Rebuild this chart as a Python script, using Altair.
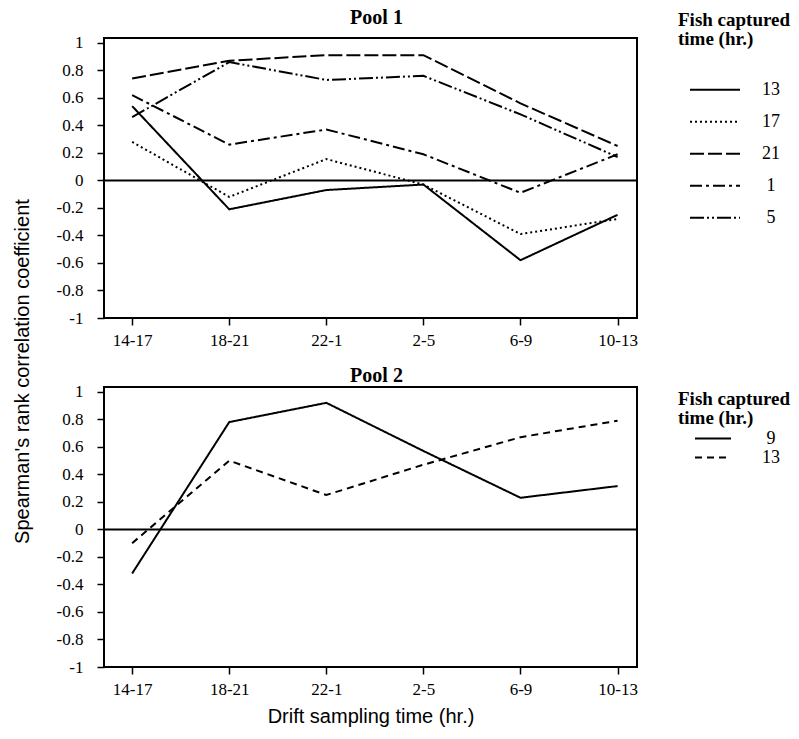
import json
import altair as alt
import pandas as pd

# ---------------- data ----------------
times = ["14-17", "18-21", "22-1", "2-5", "6-9", "10-13"]

pool1_series = ["13", "17", "21", "1", "5"]
p1_13 = [0.54, -0.21, -0.07, -0.03, -0.58, -0.25]
p1_17 = [0.28, -0.12, 0.155, -0.03, -0.39, -0.28]
p1_21 = [0.74, 0.87, 0.91, 0.91, 0.56, 0.25]
p1_1 = [0.62, 0.26, 0.37, 0.19, -0.09, 0.19]
p1_5 = [0.46, 0.86, 0.73, 0.76, 0.48, 0.17]

pool2_series = ["9", "13"]
p2_9 = [-0.32, 0.78, 0.92, 0.57, 0.23, 0.315]
p2_13 = [-0.10, 0.50, 0.25, 0.47, 0.67, 0.79]

y_ticks = [-1, -0.8, -0.6, -0.4, -0.2, 0, 0.2, 0.4, 0.6, 0.8, 1]

p1_dash = [[1, 0], [2, 3], [14, 4], [12, 4, 3, 4], [14, 3, 2, 3, 2, 3]]
p2_dash = [[1, 0], [7, 5]]


def long_df(series_names, values):
    rows = []
    for name, vals in zip(series_names, values):
        for i, (t, v) in enumerate(zip(times, vals)):
            rows.append({"idx": i, "time": t, "value": v, "series": name})
    return pd.DataFrame(rows)


df1 = long_df(pool1_series, [p1_13, p1_17, p1_21, p1_1, p1_5])
df2 = long_df(pool2_series, [p2_9, p2_13])
zero_df = pd.DataFrame({"value": [0]})

x_label_expr = json.dumps(times) + "[datum.value]"

SERIF = "Liberation Serif"
SANS = "Liberation Sans"


def panel(df, series, dashes, title, title_offset, legend, y_axis_extra, x_title):
    x_axis_kwargs = dict(values=list(range(len(times))), labelExpr=x_label_expr,
                         grid=False, labelPadding=7, labelOverlap=False, labelFlush=False)
    if x_title:
        x_axis_kwargs.update(title=x_title, titleFont=SANS, titleFontSize=20,
                             titleFontWeight="normal", titlePadding=9, titleColor="black")
    else:
        x_axis_kwargs.update(title=None)
    x = alt.X("idx:Q", scale=alt.Scale(domain=[-0.29, 5.2], nice=False, zero=False),
              axis=alt.Axis(**x_axis_kwargs))
    y_axis = alt.Axis(values=y_ticks, labelExpr="'' + datum.value", grid=False,
                      labelPadding=14, labelOverlap=False, labelFlush=False,
                      **y_axis_extra)
    y_scale = alt.Scale(domain=[-1, 1.035], nice=False, zero=False)
    y = alt.Y("value:Q", scale=y_scale, axis=y_axis)
    lines = alt.Chart(df).mark_line(color="black", strokeWidth=2).encode(
        x=x, y=y,
        strokeDash=alt.StrokeDash("series:N", sort=series,
                                  scale=alt.Scale(domain=series, range=dashes),
                                  legend=legend),
    )
    zero = alt.Chart(zero_df).mark_rule(color="black", strokeWidth=2).encode(
        y=alt.Y("value:Q", scale=y_scale, axis=y_axis)
    )
    return alt.layer(lines, zero).properties(
        width=533, height=280,
        title=alt.TitleParams(title, font=SERIF, fontSize=20, fontWeight="bold",
                              offset=title_offset, dx=6, anchor="middle", color="black"),
    )


def make_legend(x, y, sym_size, sym_offset, label_offset, clip_h, title_pad, line_h):
    return alt.Legend(
        orient="none", legendX=x, legendY=y,
        title=["Fish captured", "time (hr.)"], titleFont=SERIF, titleFontSize=19,
        titleFontWeight="bold", titleColor="black", titleLineHeight=line_h,
        titlePadding=title_pad, titleAlign="left",
        symbolType="stroke", symbolSize=sym_size, symbolStrokeWidth=2,
        symbolStrokeColor="black", symbolOffset=sym_offset,
        labelAlign="center", labelOffset=label_offset, labelFont=SERIF,
        labelFontSize=18, labelColor="black", clipHeight=clip_h, rowPadding=0,
    )


top = panel(
    df1, pool1_series, p1_dash, "Pool 1", -17,
    make_legend(574, -27, 2500, 11, 30, 31.5, 25, 19),
    dict(title="Spearman's rank correlation coefficient", titleFont=SANS,
         titleFontSize=20, titleFontWeight="normal", titleColor="black",
         titleAngle=270, titleBaseline="middle", titleAlign="center",
         titleX=-82, titleY=333),
    None,
)
bottom = panel(
    df2, pool2_series, p2_dash, "Pool 2", -3,
    make_legend(574, 3, 1296, 16, 39, 19, 1, 19),
    dict(title=None),
    "Drift sampling time (hr.)",
)

chart = alt.vconcat(top, bottom, spacing=69, bounds="flush").resolve_scale(
    strokeDash="independent", x="independent", y="independent"
).resolve_legend(
    strokeDash="independent"
).properties(
    padding={"left": 11, "top": 7, "right": 5, "bottom": 5},
    background="white",
).configure_view(
    stroke="black", strokeWidth=2
).configure_axis(
    domain=False, tickColor="black", tickWidth=1.5, tickSize=7,
    labelFont=SERIF, labelFontSize=17, labelColor="black",
)

chart.save("out.html", embed_options={"renderer": "svg", "actions": False})
